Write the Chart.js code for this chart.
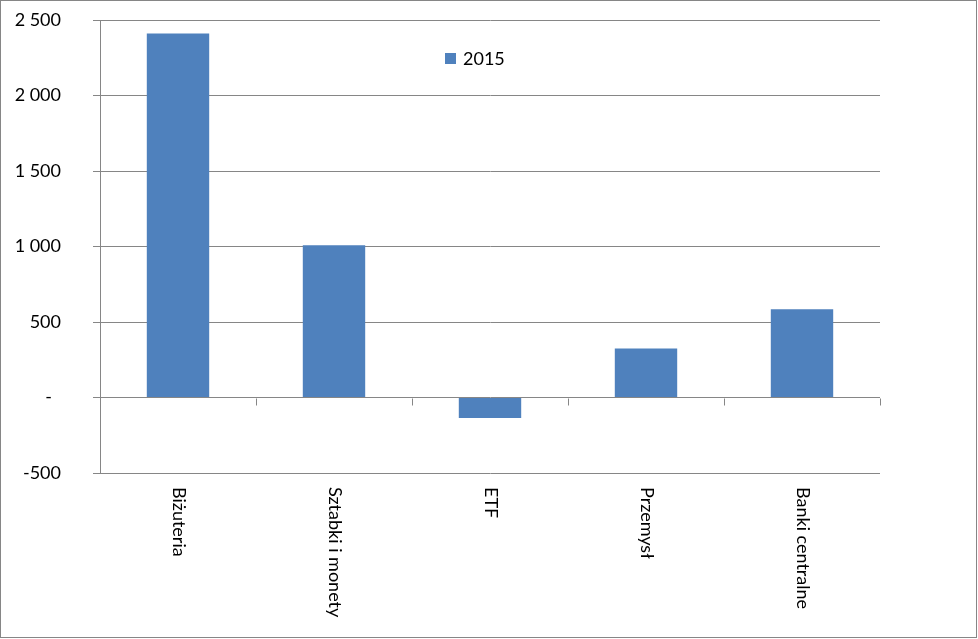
<!DOCTYPE html>
<html>
<head>
<meta charset="utf-8">
<script src="https://cdn.jsdelivr.net/npm/chart.js@4"></script>
<style>
  body { margin: 0; background: #fff; }
  #wrap { width: 978px; height: 639px; }
</style>
</head>
<body>
<div id="wrap"><canvas id="chart" width="978" height="639"></canvas></div>
<script>
// dane
const categories = ['Biżuteria', 'Sztabki i monety', 'ETF', 'Przemysł', 'Banki centralne'];
const seriesName = '2015';
const values2015 = [2410, 1008, -135, 325, 585];
const yTickValues = [-500, 0, 500, 1000, 1500, 2000, 2500];
const yTickLabels = ['-500', '-\u2002', '500', '1 000', '1 500', '2 000', '2 500'];

const FONT = 'Lato, "Noto Sans", sans-serif';
const GRAY = '#868686';
const BLUE = '#4F81BD';

// ramka, etykiety kategorii, znaczniki na osi zero, legenda
const extras = {
    id: 'extras',
    afterDraw(chart) {
        const ctx = chart.ctx;
        const x = chart.scales.x;
        const y = chart.scales.y;
        const y0 = Math.round(y.getPixelForValue(0)) + 0.5;

        ctx.save();
        ctx.strokeStyle = GRAY;
        ctx.lineWidth = 1;
        ctx.strokeRect(0.5, 0.5, 976, 637);

        // znaczniki kategorii na linii zero
        const n = categories.length;
        ctx.beginPath();
        for (let i = 1; i <= n; i++) {
            let px;
            if (i === n) px = x.right;
            else px = (x.getPixelForTick(i - 1) + x.getPixelForTick(i)) / 2;
            px = Math.round(px) + 0.5;
            ctx.moveTo(px, y0);
            ctx.lineTo(px, y0 + 7);
        }
        ctx.stroke();

        // etykiety pionowe
        ctx.fillStyle = '#000';
        ctx.font = '18px ' + FONT;
        ctx.textAlign = 'left';
        ctx.textBaseline = 'middle';
        categories.forEach((c, i) => {
            ctx.save();
            ctx.translate(x.getPixelForTick(i) + 1, y.bottom + 14);
            ctx.rotate(Math.PI / 2);
            ctx.fillText(c, 0, 0);
            ctx.restore();
        });

        // legenda
        ctx.fillStyle = BLUE;
        ctx.fillRect(445, 53, 11, 11);
        ctx.fillStyle = '#000';
        ctx.fillText(chart.data.datasets[0].label, 463, 59);
        ctx.restore();
    }
};

new Chart(document.getElementById('chart'), {
    type: 'bar',
    data: {
        labels: categories,
        datasets: [{
            label: seriesName,
            data: values2015,
            backgroundColor: BLUE,
            borderWidth: 0,
            barPercentage: 0.4,
            categoryPercentage: 1.0
        }]
    },
    options: {
        responsive: false,
        animation: false,
        layout: { padding: { top: 20, right: 98, left: 0, bottom: 0 } },
        plugins: {
            legend: { display: false },
            tooltip: { enabled: false }
        },
        scales: {
            x: {
                ticks: { display: false },
                grid: { display: false },
                border: { display: false },
                afterFit(scale) { scale.height = 166; }
            },
            y: {
                min: -500,
                max: 2500,
                ticks: {
                    stepSize: 500,
                    padding: 32,
                    color: '#000',
                    font: { family: FONT, size: 18 },
                    callback(v) {
                        const i = yTickValues.indexOf(v);
                        return i >= 0 ? yTickLabels[i] : '';
                    }
                },
                grid: { color: GRAY, lineWidth: 1, tickLength: 7 },
                border: { display: true, color: GRAY },
                afterFit(scale) {
                    scale.width = 100;
                    scale.paddingTop = 0;
                    scale.paddingBottom = 0;
                }
            }
        }
    },
    plugins: [extras]
});
</script>
</body>
</html>
